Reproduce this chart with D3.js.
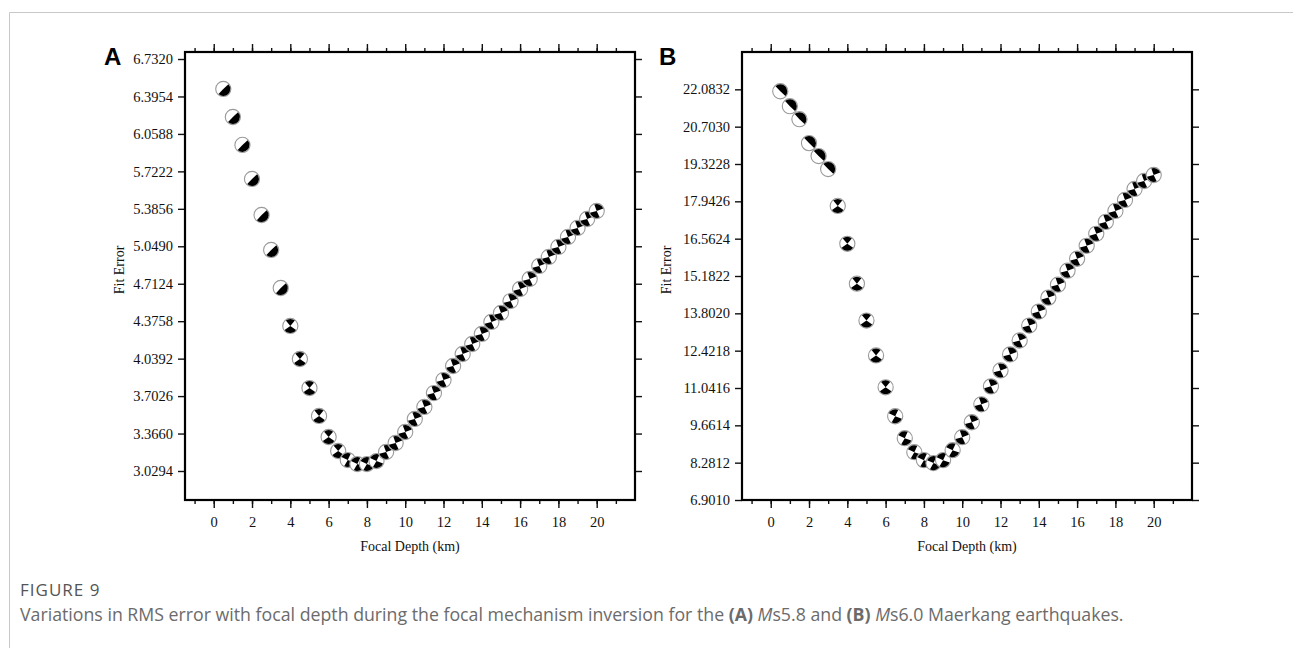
<!DOCTYPE html>
<html lang="en">
<head>
  <meta charset="UTF-8">
  <title>Figure 9 - Fit error vs focal depth</title>
  <script src="https://d3js.org/d3.v7.min.js"></script>
  <style>
    body { margin: 0; background: #fff; }
    .tick text { font-family: "Liberation Serif", "Times New Roman", serif; font-size: 14.5px; fill: #111; }
    .axis-title { font-family: "Liberation Serif", "Times New Roman", serif; font-size: 14px; fill: #111; }
    .panel-letter { font-family: "Liberation Sans", Arial, sans-serif; font-size: 24px; font-weight: bold; }
    .caption { font-family: "Open Sans", Lato, sans-serif; font-size: 15px; fill: #6b6b6b; }
  </style>
</head>
<body>
<div id="chart"></div>
<script>
// depth (km), same for both panels
const depths = [0.5, 1, 1.5, 2, 2.5, 3, 3.5, 4, 4.5, 5, 5.5, 6, 6.5, 7, 7.5, 8, 8.5, 9, 9.5, 10,
                10.5, 11, 11.5, 12, 12.5, 13, 13.5, 14, 14.5, 15, 15.5, 16, 16.5, 17, 17.5, 18, 18.5, 19, 19.5, 20];

// (A) Ms5.8 fit error
const fitA = [6.463, 6.211, 5.960, 5.654, 5.330, 5.016, 4.674, 4.333, 4.036, 3.775,
              3.524, 3.335, 3.209, 3.128, 3.092, 3.092, 3.119, 3.200, 3.281, 3.380,
              3.497, 3.605, 3.730, 3.847, 3.973, 4.081, 4.171, 4.261, 4.369, 4.450,
              4.557, 4.665, 4.755, 4.872, 4.953, 5.043, 5.133, 5.214, 5.294, 5.366];

// (B) Ms6.0 fit error
const fitB = [22.012, 21.459, 20.980, 20.095, 19.616, 19.137, 17.773, 16.373, 14.899, 13.535,
              12.245, 11.066, 9.997, 9.186, 8.670, 8.375, 8.265, 8.375, 8.744, 9.223,
              9.776, 10.439, 11.102, 11.692, 12.282, 12.798, 13.351, 13.867, 14.383, 14.862,
              15.378, 15.820, 16.299, 16.741, 17.183, 17.589, 17.994, 18.400, 18.695, 18.916];

// focal mechanism pattern of each beachball (see mechTypes)
const mechA = ["h","h","h","h","h","h","h","v","v","v","v","v","v","l","l","l","l","r","r","r",
               "r","r","r","r","r","r","r","r","r","r","r","r","r","r","r","r","r","r","r","r"];
const mechB = ["u","u","u","u","u","u","v","v","v","v","v","v","l","l","l","l","l","l","l","r",
               "r","r","r","r","r","r","r","r","r","r","r","r","r","r","r","r","r","r","r","r"];

const yTicksA = ["6.7320", "6.3954", "6.0588", "5.7222", "5.3856", "5.0490", "4.7124", "4.3758", "4.0392", "3.7026", "3.3660", "3.0294"];
const yTicksB = ["22.0832", "20.7030", "19.3228", "17.9426", "16.5624", "15.1822", "13.8020", "12.4218", "11.0416", "9.6614", "8.2812", "6.9010"];
const xTicks = [0, 2, 4, 6, 8, 10, 12, 14, 16, 18, 20];

// black wedges: [centre angle in screen degrees (0 = right, 90 = down), width]
const mechTypes = {
  h: [[45, 176]],
  u: [[-45, 176]],
  v: [[-90, 80], [90, 110]],
  l: [[-110, 90], [70, 100]],
  r: [[-65, 90], [115, 100]]
};

const W = 1293, H = 648;
const svg = d3.select("#chart").append("svg").attr("width", W).attr("height", H);

// figure box edges
svg.append("path").attr("d", "M9.5,648 L9.5,12.5 L1293,12.5").attr("fill", "none").attr("stroke", "#c8c8c8").attr("stroke-width", 1);

const arc = d3.arc().innerRadius(0).outerRadius(7);
const rad = a => (a + 90) * Math.PI / 180;

function panel(opt) {
  const x = d3.scaleLinear().domain([-1.5, 22]).range([opt.left, opt.right]);
  const y = d3.scaleLinear().domain(opt.yDomain).range([opt.bottom, opt.top]);
  const g = svg.append("g");
  const yVals = opt.yTicks.map(Number);
  const xMinor = d3.range(-1, 22, 1);

  // minor x ticks
  g.append("g").attr("transform", `translate(0,${opt.bottom})`)
    .call(d3.axisBottom(x).tickValues(xMinor).tickSize(4).tickFormat(""));
  g.append("g").attr("transform", `translate(0,${opt.top})`)
    .call(d3.axisTop(x).tickValues(xMinor).tickSize(4).tickFormat(""));
  // major x ticks
  g.append("g").attr("transform", `translate(0,${opt.bottom})`)
    .call(d3.axisBottom(x).tickValues(xTicks).tickSize(8).tickPadding(9).tickFormat(d3.format("d")));
  g.append("g").attr("transform", `translate(0,${opt.top})`)
    .call(d3.axisTop(x).tickValues(xTicks).tickSize(8).tickFormat(""));
  // y ticks
  g.append("g").attr("transform", `translate(${opt.left},0)`)
    .call(d3.axisLeft(y).tickValues(yVals).tickSize(7).tickPadding(5).tickFormat((d, i) => opt.yTicks[i]));
  g.append("g").attr("transform", `translate(${opt.right},0)`)
    .call(d3.axisRight(y).tickValues(yVals).tickSize(7).tickFormat(""));

  g.selectAll(".domain").remove();
  g.selectAll(".tick line").attr("stroke", "#111").attr("stroke-width", 1.4);

  g.append("rect")
    .attr("x", opt.left).attr("y", opt.top)
    .attr("width", opt.right - opt.left).attr("height", opt.bottom - opt.top)
    .attr("fill", "none").attr("stroke", "#000").attr("stroke-width", 2.2);

  // beachballs
  const balls = g.selectAll(".ball")
    .data(depths.map((d, i) => ({ d, v: opt.values[i], m: opt.mech[i] })))
    .enter().append("g")
    .attr("class", "ball")
    .attr("transform", p => `translate(${x(p.d)},${y(p.v)})`);
  balls.append("circle").attr("r", 7.6).attr("fill", "#fff").attr("stroke", "#9a9a9a").attr("stroke-width", 1.1);
  balls.selectAll("path")
    .data(p => mechTypes[p.m])
    .enter().append("path")
    .attr("d", w => arc({ startAngle: rad(w[0] - w[1] / 2), endAngle: rad(w[0] + w[1] / 2) }))
    .attr("fill", "#000");

  g.append("text").attr("class", "axis-title")
    .attr("x", (opt.left + opt.right) / 2).attr("y", 551)
    .attr("text-anchor", "middle").text("Focal Depth (km)");
  g.append("text").attr("class", "axis-title")
    .attr("transform", `translate(${opt.titleX},270) rotate(-90)`)
    .attr("text-anchor", "middle").text("Fit Error");
  g.append("text").attr("class", "panel-letter")
    .attr("x", opt.letterX).attr("y", 65).text(opt.letter);
}

panel({ left: 185, right: 635, top: 52, bottom: 500, yDomain: [2.7688, 6.795],
        values: fitA, mech: mechA, yTicks: yTicksA, titleX: 124, letterX: 104, letter: "A" });
panel({ left: 742, right: 1192, top: 52, bottom: 500, yDomain: [6.901, 23.4634],
        values: fitB, mech: mechB, yTicks: yTicksB, titleX: 671, letterX: 659, letter: "B" });

// caption, font size fitted to the width it has in the figure
function fitWidth(sel, target) {
  const size = parseFloat(sel.style("font-size"));
  const len = sel.node().getComputedTextLength();
  sel.style("font-size", (size * target / len).toFixed(2) + "px");
}
svg.append("text").attr("class", "caption").attr("x", 20).attr("y", 596)
  .style("font-size", "17px").style("letter-spacing", "1px").style("fill", "#555").text("FIGURE 9");
const cap = svg.append("text").attr("class", "caption").attr("x", 20).attr("y", 621);
cap.append("tspan").text("Variations in RMS error with focal depth during the focal mechanism inversion for the ");
cap.append("tspan").attr("font-weight", "bold").text("(A)");
cap.append("tspan").text(" ");
cap.append("tspan").attr("font-style", "italic").text("M");
cap.append("tspan").text("s5.8 and ");
cap.append("tspan").attr("font-weight", "bold").text("(B)");
cap.append("tspan").text(" ");
cap.append("tspan").attr("font-style", "italic").text("M");
cap.append("tspan").text("s6.0 Maerkang earthquakes.");
fitWidth(cap, 1104);
</script>
</body>
</html>
